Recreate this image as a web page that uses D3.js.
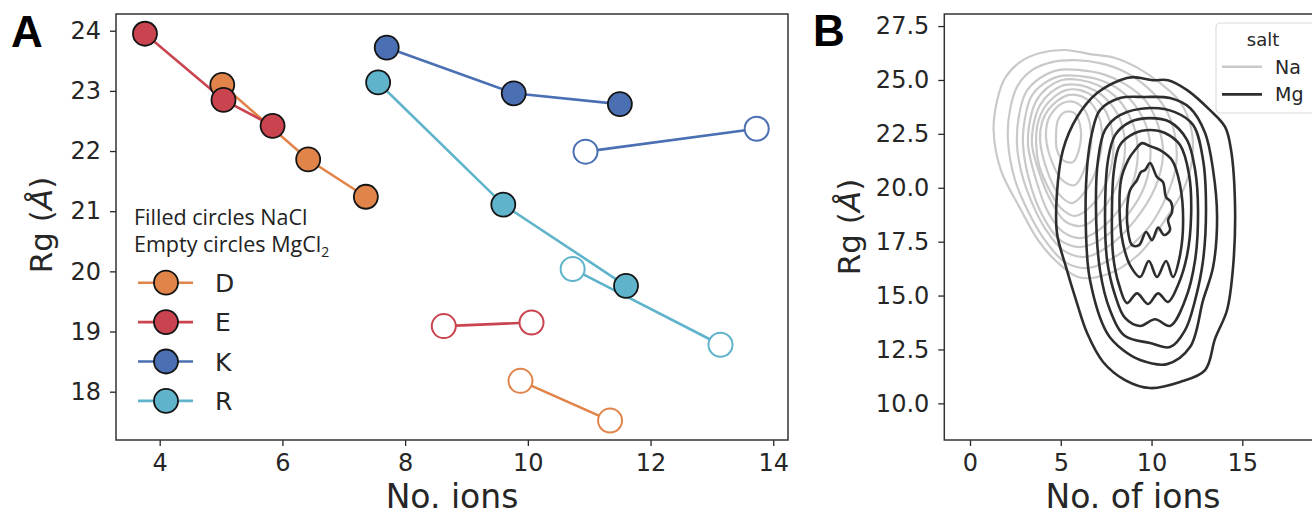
<!DOCTYPE html>
<html><head><meta charset="utf-8">
<script src="https://cdn.jsdelivr.net/npm/d3@7"></script>
<style>body{margin:0;background:#fff;overflow:hidden}</style>
</head><body>
<svg id="c" width="1312" height="515"></svg>
<script>
// ---------- Panel A data ----------
const residues = ["D", "E", "K", "R"];
const residueColors = ["#e08449", "#c9444e", "#4a6fb2", "#5fb4cb"];
const naclIons = [[5.02, 6.42, 7.36], [3.76, 5.04, 5.84], [7.70, 9.77, 11.50], [7.56, 9.60, 11.60]];
const naclRg   = [[23.10, 21.86, 21.24], [23.95, 22.85, 22.42], [23.72, 22.96, 22.78], [23.14, 21.11, 19.76]];
const mgIons   = [[9.88, 11.34], [8.63, 10.06], [10.94, 13.73], [10.73, 13.14]];
const mgRg     = [[18.18, 17.52], [19.09, 19.15], [21.99, 22.37], [20.04, 18.78]];
const xTicksA = [4, 6, 8, 10, 12, 14];
const yTicksA = [18, 19, 20, 21, 22, 23, 24];

// ---------- Panel B data (KDE contour lines, [ions, Rg]) ----------
const xTicksB = [0, 5, 10, 15];
const yTicksB = [10.0, 12.5, 15.0, 17.5, 20.0, 22.5, 25.0, 27.5];
const saltLabels = ["Na", "Mg"];
const naContours = [
  [[1.30,22.68],[1.50,24.07],[1.93,25.09],[2.75,25.83],[3.86,26.25],[5.23,26.39],[6.61,26.20],[7.99,26.02],[9.26,25.55],[10.47,24.86],[11.57,23.98],[12.18,22.77],[12.23,21.28],[11.74,19.89],[10.74,18.50],[9.26,16.88],[7.44,15.95],[5.95,15.86],[4.68,16.65],[3.75,17.57],[2.75,19.06],[1.70,20.82]],
  [[2.09,22.21],[2.20,23.60],[2.64,24.76],[3.42,25.46],[4.52,25.83],[5.79,25.92],[7.16,25.78],[8.54,25.37],[9.81,24.62],[10.74,23.70],[11.29,22.44],[11.35,21.05],[10.85,19.66],[9.81,18.13],[8.15,16.88],[6.50,16.28],[5.23,16.55],[4.24,17.44],[3.31,18.73],[2.48,20.36]],
  [[2.59,21.98],[2.70,23.37],[3.09,24.44],[3.86,25.09],[4.85,25.46],[6.06,25.46],[7.33,25.27],[8.54,24.81],[9.64,24.07],[10.36,22.91],[10.63,21.52],[10.19,19.99],[9.09,18.50],[7.71,17.34],[6.34,16.79],[5.12,17.11],[4.19,18.04],[3.42,19.29],[2.87,20.59]],
  [[2.92,21.98],[3.03,23.23],[3.36,24.21],[4.02,24.81],[4.96,25.18],[6.06,25.18],[7.16,25.00],[8.26,24.53],[9.20,23.70],[9.81,22.58],[9.92,21.19],[9.48,19.80],[8.43,18.50],[7.16,17.57],[6.06,17.25],[4.96,17.57],[4.13,18.50],[3.42,19.89]],
  [[3.20,21.98],[3.31,23.14],[3.64,24.02],[4.24,24.62],[5.07,25.00],[6.06,25.00],[7.05,24.76],[7.99,24.25],[8.76,23.37],[9.20,22.21],[9.15,20.82],[8.54,19.43],[7.44,18.27],[6.17,17.67],[5.12,17.95],[4.30,18.87],[3.64,20.36]],
  [[3.42,21.98],[3.53,23.05],[3.86,23.84],[4.41,24.39],[5.18,24.76],[6.06,24.76],[6.94,24.49],[7.71,23.93],[8.32,23.05],[8.54,21.84],[8.26,20.50],[7.49,19.20],[6.34,18.27],[5.29,18.41],[4.52,19.29],[3.86,20.59]],
  [[3.64,22.12],[3.75,23.05],[4.08,23.70],[4.63,24.21],[5.29,24.53],[6.06,24.53],[6.83,24.21],[7.44,23.60],[7.82,22.68],[7.88,21.52],[7.49,20.22],[6.72,19.20],[5.79,18.69],[4.96,19.10],[4.24,20.13],[3.80,21.05]],
  [[3.86,22.21],[3.97,23.05],[4.30,23.60],[4.79,24.02],[5.40,24.30],[6.12,24.25],[6.72,23.88],[7.16,23.14],[7.27,22.12],[7.00,20.96],[6.39,19.89],[5.62,19.29],[4.85,19.75],[4.24,20.82]],
  [[4.19,22.31],[4.30,23.14],[4.63,23.60],[5.12,23.93],[5.73,23.98],[6.28,23.65],[6.61,22.95],[6.67,21.98],[6.39,21.05],[5.79,20.13],[5.07,20.36],[4.52,21.19]],
  [[4.74,22.44],[4.85,23.14],[5.23,23.51],[5.73,23.47],[6.06,22.91],[6.06,21.98],[5.67,21.19],[5.12,21.28],[4.79,21.75]]
];
const mgContours = [
  [[8.26,24.99],[8.98,25.13],[10.08,24.99],[10.91,24.99],[11.96,24.53],[13.22,23.60],[14.05,22.82],[14.38,21.75],[14.60,19.10],[14.49,16.32],[14.16,14.33],[13.50,13.00],[12.95,11.54],[11.57,10.99],[9.92,10.71],[8.54,11.08],[7.33,11.92],[6.45,13.26],[5.84,14.79],[5.29,16.32],[4.79,17.90],[4.79,19.75],[5.12,21.75],[5.90,23.28],[7.00,24.39]],
  [[7.16,23.60],[8.26,24.16],[9.64,24.21],[11.02,24.16],[12.12,23.70],[12.95,22.54],[13.39,20.82],[13.61,18.64],[13.39,16.32],[12.84,14.79],[12.12,12.61],[10.85,11.82],[9.37,12.01],[8.43,12.47],[7.55,13.26],[6.61,15.72],[6.39,17.90],[6.45,20.96],[6.72,22.54]],
  [[7.05,21.28],[7.44,22.68],[8.26,23.37],[9.92,23.70],[11.29,23.51],[12.29,22.91],[12.84,21.28],[13.00,18.97],[12.84,16.65],[12.40,14.79],[11.85,13.40],[11.02,12.61],[9.92,12.80],[8.54,13.12],[7.71,14.33],[7.16,16.18],[6.94,18.97]],
  [[7.60,21.28],[7.99,22.44],[8.82,23.05],[9.92,23.23],[11.02,23.05],[11.96,22.21],[12.40,20.82],[12.56,18.97],[12.40,16.65],[11.85,14.79],[11.02,13.59],[10.19,13.90],[9.37,13.59],[8.54,13.96],[7.99,15.02],[7.55,16.65],[7.44,18.97]],
  [[7.93,20.82],[8.26,21.98],[9.09,22.54],[9.92,22.68],[10.74,22.54],[11.57,21.98],[12.07,20.59],[12.18,18.73],[11.96,16.88],[11.46,15.49],[10.91,14.70],[10.36,15.10],[9.81,14.61],[9.20,15.10],[8.65,14.65],[8.21,15.49],[7.88,16.88],[7.82,18.97]],
  [[8.32,20.36],[8.71,21.28],[9.09,21.75],[9.48,22.07],[9.92,21.93],[10.47,21.75],[11.13,21.28],[11.57,20.13],[11.74,18.50],[11.57,16.88],[11.18,15.86],[10.80,16.60],[10.30,15.86],[9.85,16.60],[9.37,15.86],[8.82,16.40],[8.43,17.40],[8.26,18.50]],
  [[9.92,21.15],[10.30,20.50],[10.63,20.26],[10.80,19.57],[11.07,19.34],[11.13,18.87],[10.91,18.50],[11.02,18.04],[10.69,17.81],[10.36,18.15],[10.03,17.57],[9.70,17.95],[9.31,17.34],[8.93,17.34],[8.71,17.95],[8.65,18.97],[8.82,19.89],[9.20,20.36],[9.42,20.73],[9.64,20.82]]
];
const saltColors = ["#c9c9c9", "#2e2e2e"];

// ---------- drawing ----------
const svg = d3.select("#c");
const FONT = "DejaVu Sans, sans-serif";
const INK = "#262626";

function styleAxis(g) {
  g.select(".domain").remove();
  g.selectAll(".tick line").attr("stroke", INK).attr("stroke-width", 1.3);
  g.selectAll(".tick text").attr("font-family", FONT).attr("font-size", 24).attr("fill", INK);
}

// Panel A
const A = {l: 116, r: 788, t: 14, b: 440};
const xA = d3.scaleLinear().domain([3.288, 14.24]).range([A.l, A.r]);
const yA = d3.scaleLinear().domain([17.197, 24.278]).range([A.b, A.t]);

svg.append("g").attr("transform", `translate(0,${A.b})`)
  .call(d3.axisBottom(xA).tickValues(xTicksA).tickSize(6).tickPadding(8).tickFormat(d3.format("d")))
  .call(styleAxis);
svg.append("g").attr("transform", `translate(${A.l},0)`)
  .call(d3.axisLeft(yA).tickValues(yTicksA).tickSize(6).tickPadding(9).tickFormat(d3.format("d")))
  .call(styleAxis);

const lineA = d3.line().x(d => xA(d[0])).y(d => yA(d[1]));
const gA = svg.append("g");
residues.forEach((r, i) => {
  const f = naclIons[i].map((x, j) => [x, naclRg[i][j]]);
  const m = mgIons[i].map((x, j) => [x, mgRg[i][j]]);
  gA.append("path").attr("d", lineA(f)).attr("fill", "none").attr("stroke", residueColors[i]).attr("stroke-width", 2.6);
  gA.append("path").attr("d", lineA(m)).attr("fill", "none").attr("stroke", residueColors[i]).attr("stroke-width", 2.6);
});
residues.forEach((r, i) => {
  mgIons[i].forEach((x, j) => {
    gA.append("circle").attr("cx", xA(x)).attr("cy", yA(mgRg[i][j])).attr("r", 12)
      .attr("fill", "#fff").attr("stroke", residueColors[i]).attr("stroke-width", 2);
  });
  naclIons[i].forEach((x, j) => {
    gA.append("circle").attr("cx", xA(x)).attr("cy", yA(naclRg[i][j])).attr("r", 12)
      .attr("fill", residueColors[i]).attr("stroke", "#141414").attr("stroke-width", 1.8);
  });
});
svg.append("rect").attr("x", A.l).attr("y", A.t).attr("width", A.r - A.l).attr("height", A.b - A.t)
  .attr("fill", "none").attr("stroke", "#333").attr("stroke-width", 1.5);

// Legend A
const legFont = "'Open Sans', Lato, sans-serif";
svg.append("text").attr("x", 134).attr("y", 225).attr("font-family", legFont).attr("font-size", 21.5).attr("fill", "#222")
  .text("Filled circles NaCl");
const t2 = svg.append("text").attr("x", 134).attr("y", 252).attr("font-family", legFont).attr("font-size", 21.5).attr("fill", "#222");
t2.append("tspan").text("Empty circles MgCl");
t2.append("tspan").attr("font-size", 14).attr("dy", 5).text("2");
residues.forEach((r, i) => {
  const y = 282.7 + i * 39.4;
  svg.append("line").attr("x1", 138).attr("x2", 193).attr("y1", y).attr("y2", y)
    .attr("stroke", residueColors[i]).attr("stroke-width", 2.6);
  svg.append("circle").attr("cx", 166).attr("cy", y).attr("r", 12)
    .attr("fill", residueColors[i]).attr("stroke", "#141414").attr("stroke-width", 1.8);
  svg.append("text").attr("x", 215).attr("y", y + 9).attr("font-family", FONT).attr("font-size", 25).attr("fill", INK).text(r);
});

// Axis labels A
svg.append("text").attr("x", (A.l + A.r) / 2).attr("y", 508).attr("text-anchor", "middle")
  .attr("font-family", FONT).attr("font-size", 33).attr("fill", INK).text("No. ions");
const ylA = svg.append("text").attr("transform", "translate(52,225) rotate(-90)").attr("text-anchor", "middle")
  .attr("font-family", FONT).attr("font-size", 31).attr("fill", INK);
ylA.append("tspan").text("Rg (");
ylA.append("tspan").attr("font-style", "italic").text("Å");
ylA.append("tspan").text(")");

// Panel B
const B = {l: 944.3, r: 1330, t: 14, b: 440};
const xB = d3.scaleLinear().domain([-1.416, 19.83]).range([B.l, B.r]);
const yB = d3.scaleLinear().domain([8.30, 28.06]).range([B.b, B.t]);
svg.append("g").attr("transform", `translate(0,${B.b})`)
  .call(d3.axisBottom(xB).tickValues(xTicksB).tickSize(6).tickPadding(8).tickFormat(d3.format("d")))
  .call(styleAxis);
svg.append("g").attr("transform", `translate(${B.l},0)`)
  .call(d3.axisLeft(yB).tickValues(yTicksB).tickSize(6).tickPadding(9).tickFormat(d3.format(".1f")))
  .call(styleAxis);

const lineB = d3.line().x(d => xB(d[0])).y(d => yB(d[1])).curve(d3.curveCatmullRomClosed.alpha(0.5));
const gB = svg.append("g");
naContours.forEach(c => gB.append("path").attr("d", lineB(c)).attr("fill", "none")
  .attr("stroke", saltColors[0]).attr("stroke-width", 2.2));
mgContours.forEach(c => gB.append("path").attr("d", lineB(c)).attr("fill", "none")
  .attr("stroke", saltColors[1]).attr("stroke-width", 2.6));
svg.append("rect").attr("x", B.l).attr("y", B.t).attr("width", B.r - B.l).attr("height", B.b - B.t)
  .attr("fill", "none").attr("stroke", "#333").attr("stroke-width", 1.5);

// Legend B
svg.append("rect").attr("x", 1216).attr("y", 23).attr("width", 130).attr("height", 90).attr("rx", 4)
  .attr("fill", "#fff").attr("fill-opacity", 0.85).attr("stroke", "#dcdcdc").attr("stroke-width", 1.2);
svg.append("text").attr("x", 1263).attr("y", 46).attr("text-anchor", "middle").attr("font-family", FONT)
  .attr("font-size", 18).attr("fill", INK).text("salt");
saltLabels.forEach((s, i) => {
  const y = 66.7 + i * 27.6;
  svg.append("line").attr("x1", 1222).attr("x2", 1262).attr("y1", y).attr("y2", y)
    .attr("stroke", saltColors[i]).attr("stroke-width", i ? 2.8 : 2.4);
  svg.append("text").attr("x", 1275).attr("y", y + 7).attr("font-family", FONT).attr("font-size", 19)
    .attr("fill", INK).text(s);
});

// Axis labels B
svg.append("text").attr("x", 1133).attr("y", 508).attr("text-anchor", "middle")
  .attr("font-family", FONT).attr("font-size", 33).attr("fill", INK).text("No. of ions");
const ylB = svg.append("text").attr("transform", "translate(860,227) rotate(-90)").attr("text-anchor", "middle")
  .attr("font-family", FONT).attr("font-size", 31).attr("fill", INK);
ylB.append("tspan").text("Rg (");
ylB.append("tspan").attr("font-style", "italic").text("Å");
ylB.append("tspan").text(")");

// Panel letters
svg.append("text").attr("x", 11).attr("y", 47).attr("font-family", "Liberation Sans, Arial, sans-serif")
  .attr("font-weight", "bold").attr("font-size", 44).attr("fill", "#000").text("A");
svg.append("text").attr("x", 813).attr("y", 46).attr("font-family", "Liberation Sans, Arial, sans-serif")
  .attr("font-weight", "bold").attr("font-size", 44).attr("fill", "#000").text("B");
</script>
</body></html>
